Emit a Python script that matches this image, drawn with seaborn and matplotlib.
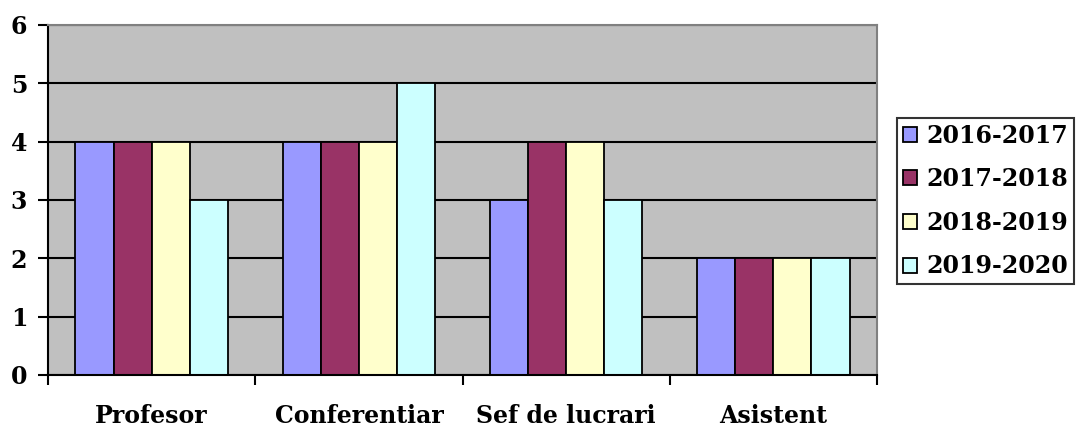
import matplotlib
matplotlib.use("Agg")
import matplotlib.pyplot as plt
import seaborn as sns
import pandas as pd
from matplotlib.ticker import FixedLocator, NullFormatter

categories = ["Profesor", "Conferentiar", "Sef de lucrari", "Asistent"]
series = ["2016-2017", "2017-2018", "2018-2019", "2019-2020"]
v2016 = [4, 4, 3, 2]
v2017 = [4, 4, 4, 2]
v2018 = [4, 4, 4, 2]
v2019 = [3, 5, 3, 2]
colors = ["#9999FF", "#993366", "#FFFFCC", "#CCFFFF"]

rows = []
for s, vals in zip(series, [v2016, v2017, v2018, v2019]):
    for c, v in zip(categories, vals):
        rows.append({"cat": c, "year": s, "val": v})
df = pd.DataFrame(rows)

sns.set_theme(style="white")
plt.rcParams["font.family"] = ["DejaVu Serif"]
plt.rcParams["font.weight"] = "bold"
plt.rcParams["text.color"] = "black"
plt.rcParams["xtick.color"] = "black"
plt.rcParams["ytick.color"] = "black"

fig = plt.figure(figsize=(10.77, 4.28), dpi=100)
ax = fig.add_axes([48/1077, 1-375/428, (877-48)/1077, (375-25)/428])
ax.set_facecolor("#C0C0C0")
ax.set_axisbelow(True)

sns.barplot(data=df, x="cat", y="val", hue="year", order=categories,
            hue_order=series, palette=colors, width=0.735,
            edgecolor="black", linewidth=1.3, saturation=1, ax=ax)

ax.set_ylim(0, 6)
ax.set_xlim(-0.5, 3.5)
ax.set_yticks(range(0, 7))
ax.yaxis.grid(True, color="black", linewidth=1.5)
ax.xaxis.grid(False)
ax.set_xlabel("")
ax.set_ylabel("")

ax.tick_params(axis="y", which="major", left=True, length=7, width=1.5,
               color="black", labelcolor="black", pad=8, labelsize=17)
ax.tick_params(axis="x", which="major", bottom=False, length=0, pad=21,
               labelcolor="black", labelsize=17)
for lab in ax.get_xticklabels() + ax.get_yticklabels():
    lab.set_fontweight("bold")
ax.xaxis.set_minor_locator(FixedLocator([-0.5, 0.5, 1.5, 2.5, 3.5]))
ax.xaxis.set_minor_formatter(NullFormatter())
ax.tick_params(axis="x", which="minor", bottom=True, length=7, width=1.5,
               color="black", direction="out")

for side in ["left", "bottom"]:
    ax.spines[side].set_color("black")
    ax.spines[side].set_linewidth(1.5)
for side in ["top", "right"]:
    ax.spines[side].set_color("#808080")
    ax.spines[side].set_linewidth(1.5)

handles, labels = ax.get_legend_handles_labels()
ax.legend_.remove()
leg = fig.legend(handles, labels, loc="center left",
                 bbox_to_anchor=(897/1077, 1-201/428),
                 frameon=True, fancybox=False, edgecolor="black",
                 handlelength=0.6, handleheight=0.6, handletextpad=0.4,
                 borderpad=0.25, labelspacing=0.83, borderaxespad=0,
                 labelcolor="black",
                 prop={"size": 17, "weight": "bold"})
leg.get_frame().set_linewidth(1.5)

fig.savefig("out.png", dpi=100)
